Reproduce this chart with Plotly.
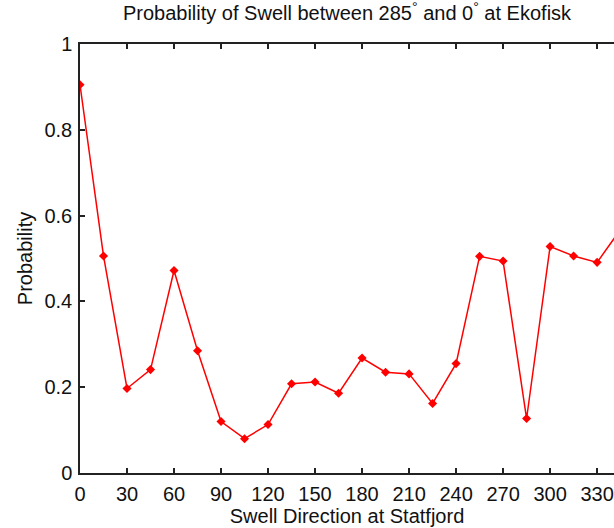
import plotly.graph_objects as go

# Swell direction at Statfjord (degrees) and probability of swell 285°-0° at Ekofisk
direction = [0, 15, 30, 45, 60, 75, 90, 105, 120, 135, 150, 165, 180, 195,
             210, 225, 240, 255, 270, 285, 300, 315, 330, 345]
probability = [0.905, 0.506, 0.197, 0.241, 0.472, 0.285, 0.120, 0.080, 0.113,
               0.208, 0.212, 0.186, 0.268, 0.235, 0.231, 0.162, 0.255, 0.505,
               0.494, 0.127, 0.528, 0.506, 0.491, 0.568]

x_ticks = list(range(0, 331, 30))
y_ticks = [0, 0.2, 0.4, 0.6, 0.8, 1]
y_tick_text = ["0", "0.2", "0.4", "0.6", "0.8", "1"]

FONT = "Liberation Sans Narrow, Liberation Sans, Arial, sans-serif"

fig = go.Figure()
fig.add_trace(go.Scatter(
    x=direction, y=probability, mode="lines+markers",
    line=dict(color="#ff0000", width=1.5),
    marker=dict(symbol="diamond", size=7, color="#ff0000"),
    showlegend=False,
))

axis_common = dict(
    showgrid=False, zeroline=False, showline=True, linecolor="#222222",
    linewidth=1.5, ticks="inside", ticklen=5, tickcolor="#222222", tickwidth=1.5,
    tickfont=dict(family=FONT, size=20, color="#111111"),
)

fig.update_layout(
    width=614, height=528,
    margin=dict(l=80, r=0, t=44, b=55),
    paper_bgcolor="white", plot_bgcolor="white",
    font=dict(family=FONT, size=20, color="#111111"),
    title=dict(
        text="Probability of Swell between 285<sup>°</sup> and 0<sup>°</sup> at Ekofisk",
        x=0.5, xref="paper", xanchor="center",
        y=1, yref="container", yanchor="top", pad=dict(t=6),
        font=dict(family=FONT, size=20, color="#111111"),
    ),
    xaxis=dict(
        range=[0, 534 / 1.567], tickvals=x_ticks, mirror="ticks",
        title=dict(text="Swell Direction at Statfjord", standoff=4,
                   font=dict(family=FONT, size=20)),
        ticklabelstandoff=2,
        **axis_common,
    ),
    yaxis=dict(
        range=[0, 1], tickvals=y_ticks, ticktext=y_tick_text,
        title=dict(text="Probability", standoff=6,
                   font=dict(family=FONT, size=20)),
        ticklabelstandoff=2,
        **axis_common,
    ),
)

fig.write_html("out.html")
